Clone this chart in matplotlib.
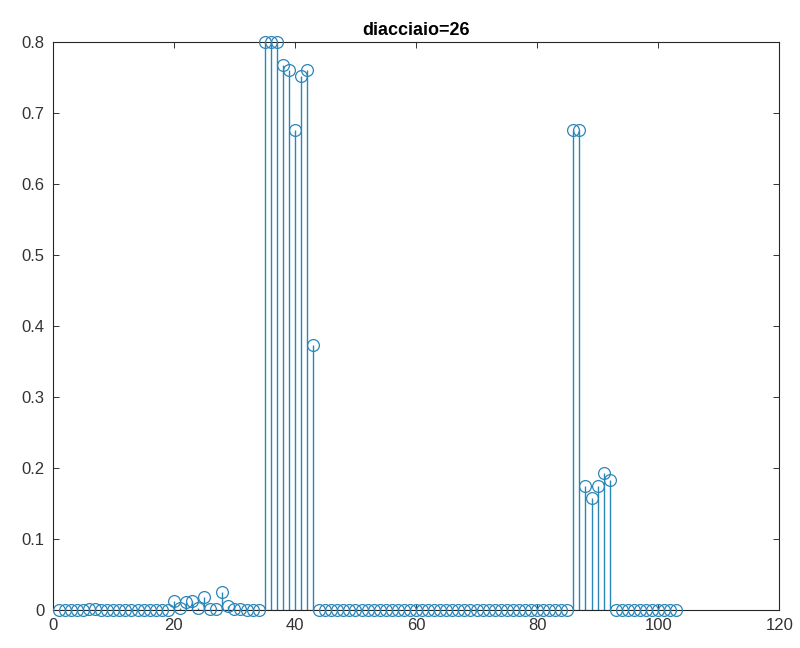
import matplotlib
matplotlib.use('Agg')
import matplotlib.pyplot as plt
import numpy as np

plt.rcParams['font.family'] = ['Liberation Sans', 'DejaVu Sans']

# sample index 1..103
idx = np.arange(1, 104)

# values (zeros except where noted)
vals = np.zeros(103)
small = {6: 0.002, 7: 0.002, 20: 0.013, 21: 0.003, 22: 0.012, 23: 0.013,
         24: 0.003, 25: 0.019, 26: 0.002, 27: 0.002, 28: 0.025, 29: 0.006,
         30: 0.002, 31: 0.001}
peak_left = {35: 0.8, 36: 0.8, 37: 0.8, 38: 0.768, 39: 0.760, 40: 0.676,
             41: 0.752, 42: 0.760, 43: 0.373}
peak_right = {86: 0.676, 87: 0.676, 88: 0.174, 89: 0.158, 90: 0.175,
              91: 0.193, 92: 0.183}
for d in (small, peak_left, peak_right):
    for k, v in d.items():
        vals[k - 1] = v

title = 'diacciaio=26'
color = '#2b86b8'

fig = plt.figure(figsize=(8, 6.48), dpi=100)
ax = fig.add_axes([0.066, 0.0586, 0.908, 0.8766])

markers, stems, base = ax.stem(idx, vals, basefmt='k-')
plt.setp(stems, color=color, linewidth=1.0)
plt.setp(markers, marker='o', markersize=8.5, markerfacecolor='none',
         markeredgecolor=color, markeredgewidth=0.9, clip_on=False, zorder=3)
plt.setp(base, color='#404040', linewidth=0.8)

ax.set_xlim(0, 120)
ax.set_ylim(0, 0.8)
ax.set_xticks(np.arange(0, 121, 20))
ax.set_yticks(np.arange(0, 0.81, 0.1))
ax.set_yticklabels(['0', '0.1', '0.2', '0.3', '0.4', '0.5', '0.6', '0.7', '0.8'])
ax.tick_params(direction='in', top=True, right=True, length=4, width=0.7,
               labelsize=12, colors='#333333', pad=6)
for s in ax.spines.values():
    s.set_color('#262626')
    s.set_linewidth(0.8)

ax.set_title(title, fontsize=13, fontweight='bold', pad=5)

fig.savefig('out.png', dpi=100, facecolor='white')
